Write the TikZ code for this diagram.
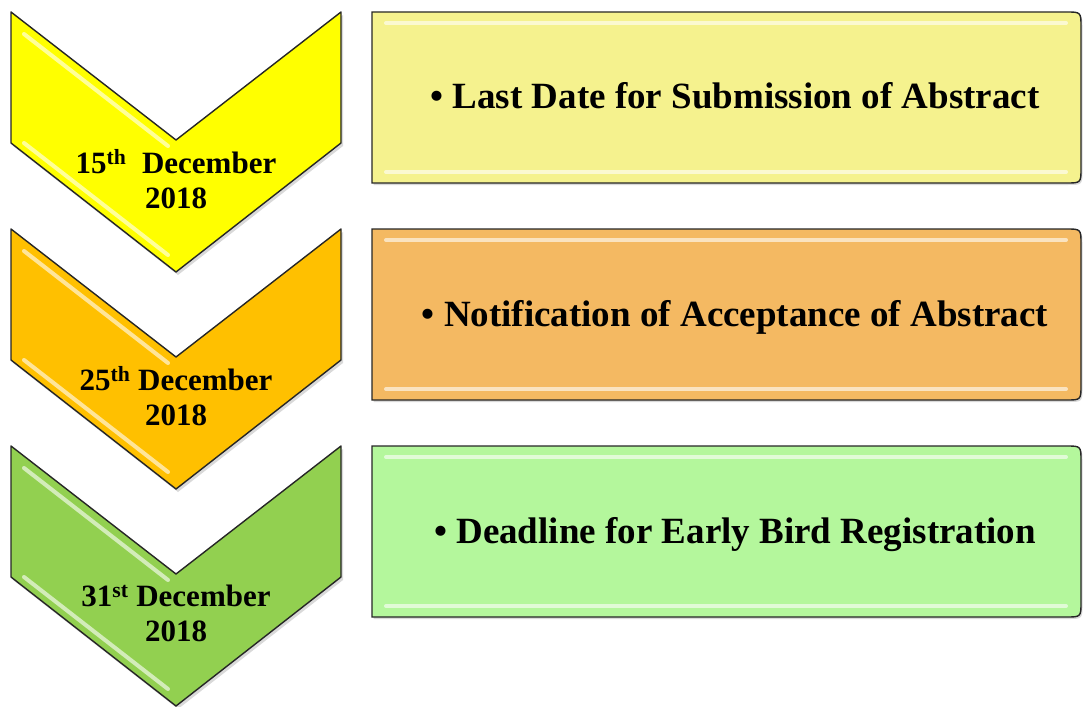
\documentclass[tikz,border=0pt]{standalone}
\usepackage{fontspec}
\setmainfont{Liberation Serif}
\usetikzlibrary{shadows}
\definecolor{chevA}{HTML}{FFFF00}
\definecolor{chevB}{HTML}{FFC000}
\definecolor{chevC}{HTML}{92D050}
\definecolor{boxA}{HTML}{F5F28E}
\definecolor{boxB}{HTML}{F4B962}
\definecolor{boxC}{HTML}{B4F79C}
\tikzset{chevron/.style={draw=black!85, line width=1.4pt, line join=round,
  drop shadow={shadow xshift=2pt, shadow yshift=-3pt, opacity=.3}},
  infobox/.style={draw=black!85, line width=1.4pt,
  drop shadow={shadow xshift=1.5pt, shadow yshift=-2pt, opacity=.3}},
  shine/.style={white, opacity=.6, line width=4pt, line cap=round},
  datetxt/.style={font=\fontsize{31}{35}\selectfont\bfseries, align=center},
  itemtxt/.style={font=\fontsize{37}{40}\selectfont\bfseries, anchor=base}}

\begin{document}
\begin{tikzpicture}[x=1pt,y=-1pt]
\useasboundingbox (0,0) rectangle (1083,706);
\foreach \n/\t/\cc/\bc/\day/\what in {
 1/12/chevA/boxA/{15\textsuperscript{th}\ \ December}/{Last Date for Submission of Abstract},
 2/229/chevB/boxB/{25\textsuperscript{th} December}/{Notification of Acceptance of Abstract},
 3/446/chevC/boxC/{31\textsuperscript{st} December}/{Deadline for Early Bird Registration}} {
 \draw[chevron, fill=\cc] (11,\t) -- (176,\t+128) -- (341,\t) -- (341,\t+131)
   -- (176,\t+260) -- (11,\t+131) -- cycle;
 \draw[shine] (24,\t+22) -- (168,\t+134);
 \draw[shine] (24,\t+131) -- (168,\t+243);
 \draw[infobox, fill=\bc] (372,\t) -- (1066,\t) .. controls (1081,\t) .. (1081,\t+15)
   -- (1081,\t+156) .. controls (1081,\t+171) .. (1066,\t+171) -- (372,\t+171) -- cycle;
 \draw[shine] (386,\t+11) -- (1066,\t+11);
 \draw[shine] (386,\t+160) -- (1066,\t+160);
 \node[datetxt] (date\n) at (176,\t+167) {\day\\2018};
 \node[itemtxt] (item\n) at (735,\t+97) {\textbullet\ \what};
}
\end{tikzpicture}
\end{document}
